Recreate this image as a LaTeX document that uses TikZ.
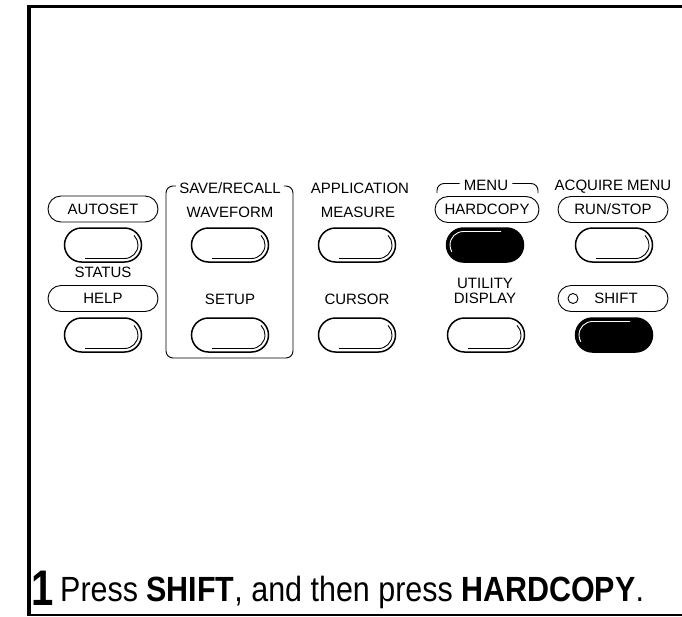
\documentclass[tikz,border=0pt]{standalone}
\usepackage{fontspec}
\setmainfont{Liberation Sans}
\usetikzlibrary{shapes.misc}
\usetikzlibrary{calc}
\tikzstyle{key} = [draw, line width=1.5pt, rounded rectangle, minimum width=77pt, minimum height=34pt, inner sep=0pt]
\tikzstyle{hotkey} = [key, fill=black]
\tikzstyle{tag} = [draw, line width=0.9pt, rounded rectangle, minimum width=110pt, minimum height=26pt, inner sep=0pt, font=\fontsize{15}{17}\selectfont]
\tikzstyle{caption} = [inner sep=0pt, font=\fontsize{15}{17}\selectfont]
\tikzstyle{bracket} = [draw, line width=0.9pt, rounded corners=7pt]
\newcommand{\keyshade}[1]{\draw[line width=0.9pt] ($(#1.center)+(-18,13.5)$) -- ++(39.5,0) arc[start angle=90, end angle=-45, radius=13.5];}
\newcommand{\hotshade}[1]{\draw[white, line width=0.9pt] ($(#1.center)+(16,-13.5)$) -- ++(-37.5,0) arc[start angle=-90, end angle=-210, radius=13.5];}

\begin{document}
\begin{tikzpicture} [x=1pt, y=-1pt]

        \useasboundingbox (0,0) rectangle (682,616);
        \draw[line width=3pt] (27,6.5) -- (682,6.5);
        \draw[line width=4pt] (29,5) -- (29,616);
        \draw[line width=1.5pt] (27,614.8) -- (682,614.8);

        \node[tag] (autoset) at (103,209) {AUTOSET};
        \node[key] (autosetkey) at (103,245) {};
        \node[caption] (status) at (103,272) {STATUS};
        \node[tag] (help) at (103,298.5) {HELP};
        \node[key] (helpkey) at (103,335) {};

        \node[caption] (saverecall) at (230,188) {SAVE/RECALL};
        \node[caption] (waveform) at (230,212) {WAVEFORM};
        \node[key] (waveformkey) at (230,245) {};
        \node[caption] (setup) at (230,299) {SETUP};
        \node[key] (setupkey) at (230,335) {};

        \node[caption] (application) at (360,188) {APPLICATION};
        \node[caption] (measure) at (358,212.5) {MEASURE};
        \node[key] (measurekey) at (357,245) {};
        \node[caption] (cursor) at (357,299) {CURSOR};
        \node[key] (cursorkey) at (357,335) {};

        \node[caption] (menu) at (486,185.5) {MENU};
        \node[tag, minimum width=104pt] (hardcopy) at (487,209.5) {HARDCOPY};
        \node[hotkey] (hardcopykey) at (485,245) {};
        \node[caption] (utility) at (485,283) {UTILITY};
        \node[caption] (display) at (485,298) {DISPLAY};
        \node[key] (displaykey) at (486,335) {};

        \node[caption] (acquire) at (613,186.5) {ACQUIRE MENU};
        \node[tag] (runstop) at (613,209.5) {RUN/STOP};
        \node[key] (runstopkey) at (614,245) {};
        \node[tag] (shift) at (613,298.5) {};
        \node[caption] (shifttext) at (616,298.5) {SHIFT};
        \node[draw, circle, line width=0.9pt, minimum size=10pt, inner sep=0pt] (shiftled) at (573,298.5) {};
        \node[hotkey] (shiftkey) at (614,335) {};

        % inner edges of the keys
        \keyshade{autosetkey} \keyshade{helpkey}
        \keyshade{waveformkey} \keyshade{setupkey}
        \keyshade{measurekey} \keyshade{cursorkey}
        \keyshade{displaykey} \keyshade{runstopkey}
        \hotshade{hardcopykey} \hotshade{shiftkey}

        % group brackets
        \draw[bracket] ([xshift=-3pt,yshift=2pt]saverecall.west) -- (166,186) -- (166,358) -- (293,358) -- (293,186) -- ([xshift=3pt,yshift=2pt]saverecall.east);
        \draw[bracket] ([xshift=-4pt,yshift=2pt]menu.west) -- (437,183.5) -- (437,193);
        \draw[bracket] ([xshift=4pt,yshift=2pt]menu.east) -- (538,183.5) -- (538,193);

        \node[anchor=base west, inner sep=0pt, font=\bfseries\fontsize{50}{50}\selectfont] (stepno) at (31,605) {\scalebox{0.8}[1]{1}};
        \node[anchor=base west, inner sep=0pt, font=\fontsize{35}{35}\selectfont] (instr) at (60,601) {\scalebox{0.87}[1]{Press \textbf{SHIFT}, and then press \textbf{HARDCOPY}.}};

\end{tikzpicture}
\end{document}
